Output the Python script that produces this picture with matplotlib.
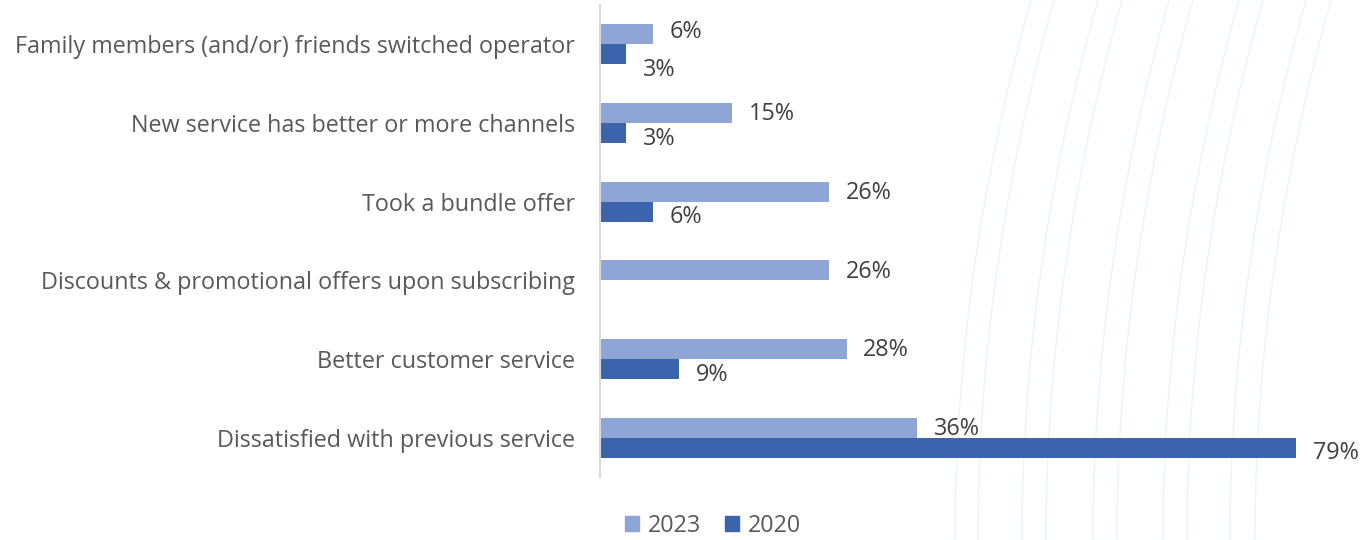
import numpy as np
import matplotlib.pyplot as plt
from matplotlib.patches import Patch

# reasons for switching operator, share of respondents (%)
reasons = [
    'Family members (and/or) friends switched operator',
    'New service has better or more channels',
    'Took a bundle offer',
    'Discounts & promotional offers upon subscribing',
    'Better customer service',
    'Dissatisfied with previous service',
]
share_2023 = [6, 15, 26, 26, 28, 36]
share_2020 = [3, 3, 6, np.nan, 9, 79]
years = ['2023', '2020']

col_2023 = '#8FA5D6'
col_2020 = '#3B64AD'
text_col = '#404040'
cat_col = '#595959'

plt.rcParams['font.family'] = ['Open Sans', 'DejaVu Sans']
plt.rcParams['font.size'] = 16.8

fig = plt.figure(figsize=(13.61, 5.4), dpi=100)

# faint decorative curves in the background
bg = fig.add_axes([0, 0, 1, 1], zorder=0)
bg.set_xlim(0, 1361)
bg.set_ylim(540, 0)
bg.axis('off')
yy = np.linspace(0, 540, 200)
for x0 in [955, 978, 1022, 1046, 1093, 1117, 1163, 1187, 1230, 1255]:
    xx = x0 + 76 * (1 - yy / 540) ** 2
    bg.plot(xx, yy, color='#EAF5F4', lw=1.0)

ax = fig.add_axes([600 / 1361, 1 - 477 / 540, 740 / 1361, 472 / 540], zorder=1)
ax.patch.set_alpha(0)

y = np.arange(len(reasons))
h = 0.255
ax.barh(y - h / 2, share_2023, height=h, color=col_2023)
ax.barh(y + h / 2, share_2020, height=h, color=col_2020)

ax.set_xlim(0, 740 / 8.81)
ax.set_ylim(len(reasons) - 0.5, -0.5)
ax.set_yticks(y)
ax.set_yticklabels(reasons, color=cat_col)
ax.tick_params(axis='y', length=0, pad=18)
ax.set_xticks([])
for s in ['top', 'right', 'bottom']:
    ax.spines[s].set_visible(False)
ax.spines['left'].set_color('#D9D9D9')
ax.spines['left'].set_linewidth(1.5)

# value labels just past the end of each bar; the short pair on top is spread apart
for i, (a, b) in enumerate(zip(share_2023, share_2020)):
    dy_a, dy_b = (2, -11) if i == 0 else (-1, -4)
    ax.annotate(f'{a}%', (a, i - h / 2), xytext=(12, dy_a), textcoords='offset points',
                va='center', ha='left', color=text_col)
    if not np.isnan(b):
        ax.annotate(f'{b:.0f}%', (b, i + h / 2), xytext=(12, dy_b), textcoords='offset points',
                    va='center', ha='left', color=text_col)

handles = [Patch(color=col_2023), Patch(color=col_2020)]
fig.legend(handles, years, loc='center', bbox_to_anchor=(713 / 1361, 1 - 526 / 540),
           ncol=2, frameon=False, handlelength=0.6, handleheight=0.6,
           handletextpad=0.4, columnspacing=1.0, labelcolor=cat_col)

fig.savefig('out.png', dpi=100)
